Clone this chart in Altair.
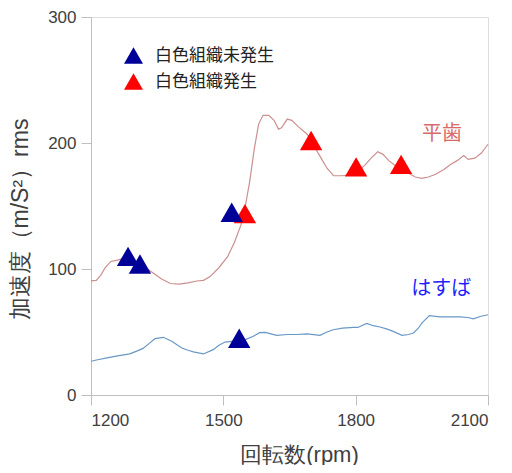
import altair as alt
import pandas as pd

FONT = "Noto Sans CJK JP"

# 平歯 (spur gear) curve
spur_rpm = [1200, 1212, 1222, 1232, 1245, 1260, 1280, 1300, 1320, 1340, 1360, 1380, 1400,
            1420, 1440, 1455, 1470, 1490, 1510, 1525, 1540, 1550, 1560, 1570, 1580,
            1590, 1603, 1615, 1625, 1632, 1645, 1655, 1670, 1690, 1705, 1720, 1735,
            1750, 1770, 1790, 1805, 1820, 1835, 1850, 1862, 1875, 1890, 1905, 1920,
            1935, 1950, 1965, 1980, 2000, 2015, 2030, 2045, 2055, 2070, 2085, 2100]
spur_acc = [90.5, 91, 95, 101, 106, 107, 109, 106, 102, 97, 92, 88.5, 88,
            89, 90.5, 91, 94, 101, 110, 121, 135, 150, 170, 195, 215,
            222, 222, 218, 211, 212, 219, 218, 213, 207, 198, 189, 180,
            174, 174, 175, 178, 182, 188, 193, 191, 186, 182, 180, 176,
            173, 172, 173, 175, 179, 183, 186, 190, 187, 188, 192, 199]

# はすば (helical gear) curve
hel_rpm = [1200, 1215, 1236, 1260, 1288, 1305, 1318, 1332, 1345, 1364, 1383, 1406,
           1420, 1432, 1455, 1477, 1490, 1504, 1530, 1550, 1568, 1582, 1595, 1621,
           1645, 1666, 1690, 1719, 1735, 1749, 1770, 1795, 1805, 1825, 1840, 1855,
           1870, 1885, 1905, 1920, 1931, 1942, 1950, 1967, 1991, 2015, 2037, 2055,
           2067, 2082, 2100]
hel_acc = [26.8, 28, 29.5, 31, 32.6, 35, 37, 41, 44.7, 45.8, 42.6, 37.3,
           35.5, 34.2, 32.6, 36, 39.5, 42, 43, 44, 46.6, 49.5, 49.7, 47.4,
           48, 48, 48.5, 47.4, 50, 51.8, 53, 53.6, 53.6, 56.8, 55, 54,
           52.5, 50.5, 47.4, 48, 49.2, 53, 57, 63, 62, 62, 62, 61.5,
           60.5, 62.3, 63.7]

# markers
categories = ["白色組織未発生", "白色組織発生"]
marker_rpm = [1549, 1699, 1801, 1903, 1284, 1311, 1519, 1536]
marker_acc = [144, 202, 181, 183, 110, 104, 145, 45]
marker_cat = ["白色組織発生"] * 4 + ["白色組織未発生"] * 4
marker_colors = ["#000099", "#ff0000"]

# curve labels
label_text = ["平歯", "はすば"]
label_rpm = [1996, 1994]
label_acc = [207, 84]
label_colors = ["#d86a6a", "#1f1fff"]

spur_df = pd.DataFrame({"rpm": spur_rpm, "acc": spur_acc})
hel_df = pd.DataFrame({"rpm": hel_rpm, "acc": hel_acc})
mk_df = pd.DataFrame({"rpm": marker_rpm, "acc": marker_acc, "cat": marker_cat,
                      "order": list(range(len(marker_rpm)))})
lb_df = pd.DataFrame({"rpm": label_rpm, "acc": label_acc, "text": label_text,
                      "color": label_colors})

xscale = alt.Scale(domain=[1200, 2100], nice=False, zero=False)
yscale = alt.Scale(domain=[0, 300], nice=False)

xaxis = alt.Axis(values=[1200, 1500, 1800, 2100], format="d", title="回転数(rpm)", grid=False,
                 tickSize=10, labelPadding=7, labelFontSize=17, labelColor="#404040",
                 titleFontSize=22, titleFontWeight="normal", titleColor="#404040",
                 titleX=208, titleY=59, titleBaseline="middle", titleAlign="center",
                 domainColor="#bfbfbf", tickColor="#bfbfbf")
yaxis = alt.Axis(values=[0, 100, 200, 300], title="加速度（m/S²）rms", grid=False,
                 tickSize=10, labelPadding=5, labelFontSize=17, labelColor="#404040",
                 titleFontSize=23, titleFontWeight="normal", titleColor="#404040",
                 titleX=-71, titleY=202, titleBaseline="middle", titleAlign="center",
                 titleAngle=-90, domainColor="#bfbfbf", tickColor="#bfbfbf")

spur = alt.Chart(spur_df).mark_line(color="#cc8f8f", strokeWidth=1.2).encode(
    x=alt.X("rpm:Q", scale=xscale, axis=xaxis),
    y=alt.Y("acc:Q", scale=yscale, axis=yaxis),
)
hel = alt.Chart(hel_df).mark_line(color="#6a98c6", strokeWidth=1.2).encode(
    x=alt.X("rpm:Q", scale=xscale),
    y=alt.Y("acc:Q", scale=yscale),
)
markers = alt.Chart(mk_df).mark_point(shape="triangle-up", filled=True, size=500,
                                       opacity=1, strokeWidth=0).encode(
    x=alt.X("rpm:Q", scale=xscale),
    y=alt.Y("acc:Q", scale=yscale),
    color=alt.Color("cat:N", scale=alt.Scale(domain=categories, range=marker_colors),
                    legend=alt.Legend(orient="none", legendX=33, legendY=29, title=None,
                                      symbolType="triangle-up", symbolSize=360,
                                      symbolStrokeWidth=0, labelFontSize=17,
                                      labelFont=FONT, labelColor="#222222",
                                      labelOffset=12, rowPadding=8, padding=0)),
    order=alt.Order("order:Q"),
)
labels = alt.Chart(lb_df).mark_text(fontSize=20, font=FONT, align="center",
                                    baseline="middle").encode(
    x=alt.X("rpm:Q", scale=xscale),
    y=alt.Y("acc:Q", scale=yscale),
    text="text:N",
    color=alt.Color("color:N", scale=None),
)

chart = alt.layer(spur, hel, markers, labels).properties(
    width=397, height=378,
    autosize=alt.AutoSizeParams(type="none"),
    padding={"left": 83, "top": 9, "right": 16, "bottom": 70},
).configure_view(stroke="#bfbfbf", strokeWidth=1.5).configure_axis(
    labelFont=FONT, titleFont=FONT, domainWidth=1.5, tickWidth=1.5
).configure(background="white")

chart.save("out.html", embed_options={"renderer": "svg", "actions": False})
